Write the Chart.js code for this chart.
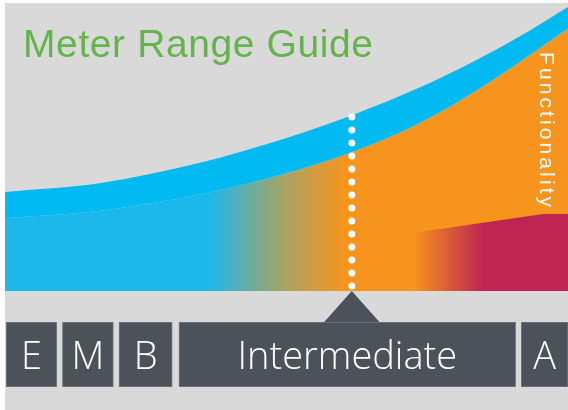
<!DOCTYPE html>
<html>
<head>
<meta charset="utf-8">
<script src="https://cdn.jsdelivr.net/npm/chart.js@4.4.0/dist/chart.umd.min.js"></script>
<style>
  body { margin: 0; background: #fff; width: 568px; height: 410px; overflow: hidden; }
  #wrap { position: absolute; left: 5px; top: 3px; width: 563px; height: 407px; background: #d9d9d9; overflow: hidden; }
  #areaChart { position: absolute; left: 0; top: 0; }
  #rangeChart { position: absolute; left: 0; top: 288px; }
  #title { position: absolute; left: 18px; top: 21px; font: 39px/1 "Liberation Sans", Arial, sans-serif; color: #62b44b; letter-spacing: 0.6px; white-space: nowrap; }
  #func { position: absolute; left: 553px; top: 49px; transform-origin: 0 0; transform: rotate(90deg);
          font: 21px/1 "Liberation Sans", Arial, sans-serif; color: #fff; letter-spacing: 3.1px; white-space: nowrap; }
</style>
</head>
<body>
<div id="wrap">
  <canvas id="areaChart" width="563" height="288"></canvas>
  <canvas id="rangeChart" width="563" height="119"></canvas>
  <div id="title">Meter Range Guide</div>
  <div id="func">Functionality</div>
</div>
<script>
// meter range (x, 0-100) vs functionality (y, 0-100)
const rangeX = [0, 17, 35, 47, 53, 62, 73, 84, 93, 100];
const upperEdge = [34.4, 37.5, 44.7, 51.3, 55.0, 61.3, 70.1, 80.5, 90.2, 98.6];
const lowerEdge = [25.3, 27.9, 33.7, 39.2, 42.6, 48.5, 57.7, 70.0, 81.7, 91.2];

const advancedX = [69.6, 95.6, 100];
const advancedY = [19.4, 26.7, 26.7];

// dotted marker for the Intermediate meter
const markerX = 61.6;
const markerY = [60.4, 1.7];

// range boxes along the bottom
const boxLabels = ['E', 'M', 'B', 'Intermediate', 'A'];
const boxStarts = [0.2, 10.2, 20.25, 30.9, 91.7];
const boxEnds = [9.2, 19.25, 29.7, 90.7, 100];

const BLUE_BAND = '#00baf1';
const BLUE = '#1cb8ec';
const ORANGE = '#f7941d';
const CRIMSON = '#be2553';
const BOX = '#4b525a';

function toPoints(xs, ys) {
  return xs.map((x, i) => ({ x: x, y: ys[i] }));
}

function hGradient(ctx, stops) {
  const chart = ctx.chart;
  const area = chart.chartArea;
  if (!area) return stops[0][1];
  const xs = chart.scales.x;
  const first = stops[0][0];
  const last = stops[stops.length - 1][0];
  const g = chart.ctx.createLinearGradient(xs.getPixelForValue(first), 0, xs.getPixelForValue(last), 0);
  stops.forEach(s => g.addColorStop((s[0] - first) / (last - first), s[1]));
  return g;
}

new Chart(document.getElementById('areaChart'), {
  type: 'line',
  data: {
    datasets: [
      {
        label: 'marker',
        data: toPoints([markerX, markerX], markerY),
        borderColor: '#ffffff',
        borderWidth: 7,
        borderDash: [0, 13],
        borderCapStyle: 'round',
        fill: false,
        tension: 0
      },
      {
        label: 'advanced',
        data: toPoints(advancedX, advancedY),
        borderWidth: 0,
        tension: 0,
        fill: 'origin',
        backgroundColor: ctx => hGradient(ctx, [[72.5, ORANGE], [84.9, CRIMSON]])
      },
      {
        label: 'band',
        data: toPoints(rangeX, upperEdge),
        borderWidth: 0,
        cubicInterpolationMode: 'monotone',
        fill: '+1',
        backgroundColor: BLUE_BAND
      },
      {
        label: 'lower',
        data: toPoints(rangeX, lowerEdge),
        borderWidth: 0,
        cubicInterpolationMode: 'monotone',
        fill: 'origin',
        backgroundColor: ctx => hGradient(ctx, [[36.1, BLUE], [49.5, '#a8a462'], [60.4, ORANGE]])
      }
    ]
  },
  options: {
    responsive: false,
    animation: false,
    layout: { padding: 0 },
    elements: { point: { radius: 0 } },
    scales: {
      x: { type: 'linear', min: 0, max: 100, display: false },
      y: { min: 0, max: 100, display: false }
    },
    plugins: { legend: { display: false }, tooltip: { enabled: false } }
  }
});

const boxPlugin = {
  id: 'boxPlugin',
  beforeDatasetsDraw(chart) {
    // pointer triangle above the Intermediate box
    const ctx = chart.ctx;
    const cx = chart.scales.x.getPixelForValue(markerX);
    const top = chart.chartArea.top;
    ctx.save();
    ctx.fillStyle = BOX;
    ctx.beginPath();
    ctx.moveTo(cx, 0);
    ctx.lineTo(cx + 28.5, top + 1);
    ctx.lineTo(cx - 28.5, top + 1);
    ctx.closePath();
    ctx.fill();
    ctx.restore();
  },
  afterDatasetsDraw(chart) {
    const ctx = chart.ctx;
    ctx.save();
    ctx.fillStyle = '#ffffff';
    ctx.font = '300 38px "Open Sans", sans-serif';
    ctx.textAlign = 'center';
    ctx.textBaseline = 'alphabetic';
    chart.data.datasets.forEach((ds, i) => {
      const bar = chart.getDatasetMeta(i).data[0];
      const c = bar.getCenterPoint();
      const right = Math.min(bar.x, chart.chartArea.right);
      ctx.fillText(ds.label, (bar.base + right) / 2, c.y + 14);
    });
    ctx.restore();
  }
};

new Chart(document.getElementById('rangeChart'), {
  type: 'bar',
  data: {
    labels: ['range'],
    datasets: boxLabels.map((label, i) => ({
      label: label,
      data: [[boxStarts[i], boxEnds[i]]],
      backgroundColor: BOX,
      borderColor: '#727880',
      borderWidth: 1,
      borderSkipped: false,
      grouped: false,
      barPercentage: 1,
      categoryPercentage: 1
    }))
  },
  options: {
    indexAxis: 'y',
    responsive: false,
    animation: false,
    layout: { padding: { top: 31, bottom: 23, left: 0, right: 0 } },
    scales: {
      x: { type: 'linear', min: 0, max: 100, display: false },
      y: { display: false }
    },
    plugins: { legend: { display: false }, tooltip: { enabled: false } }
  },
  plugins: [boxPlugin]
});
</script>
</body>
</html>
